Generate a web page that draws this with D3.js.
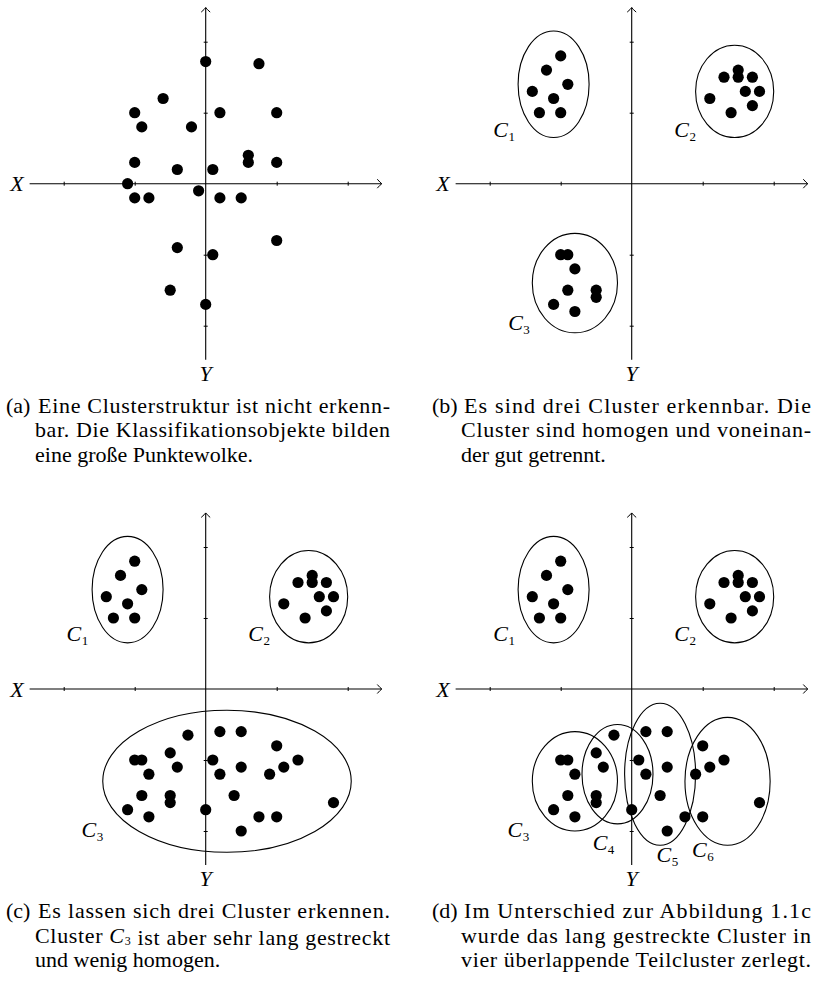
<!DOCTYPE html>
<html><head><meta charset="utf-8">
<script src="https://cdn.jsdelivr.net/npm/d3@7"></script>
<style>
body{margin:0;background:#fff}
svg{display:block}
text{font-family:"Liberation Serif","Times New Roman",serif;fill:#000}
</style>
</head><body>
<svg id="chart" width="814" height="984"></svg>
<script>
// ---------- data ----------
const axisTicks = [-2, -1, 1, 2];
const axisNames = ["X", "Y"];

const pointsA = [[0,1.72],[0.75,1.69],[-0.6,1.2],[-1,1],[0.2,1],[1,1],[-0.9,0.8],[-0.2,0.8],
  [0.6,0.4],[0.6,0.3],[-1,0.3],[1,0.3],[-0.4,0.2],[0.1,0.2],[-1.1,0],[-0.1,-0.1],[-1,-0.2],
  [-0.8,-0.2],[0.2,-0.2],[0.5,-0.2],[1,-0.8],[-0.4,-0.9],[0.1,-1],[-0.5,-1.5],[0,-1.7]];

const cluster1 = [[-1,1.8],[-1.2,1.6],[-0.9,1.4],[-1.4,1.3],[-1.1,1.2],[-1.3,1],[-1,1]];
const cluster2 = [[1.5,1.6],[1.5,1.5],[1.3,1.5],[1.7,1.5],[1.6,1.3],[1.8,1.3],[1.1,1.2],[1.7,1.1],[1.4,1]];
const cluster3 = [[-1,-1],[-0.9,-1],[-0.8,-1.2],[-0.9,-1.5],[-0.5,-1.5],[-0.5,-1.6],[-1.1,-1.7],[-0.8,-1.8]];
const lowerExtra = [[-0.25,-0.65],[0.2,-0.6],[0.5,-0.6],[1,-0.8],[-0.5,-0.9],[0.1,-1],[1.3,-1],
  [-0.4,-1.1],[0.5,-1.1],[1.1,-1.1],[0.2,-1.2],[0.9,-1.2],[0.4,-1.5],[1.8,-1.6],[0,-1.7],
  [0.75,-1.8],[1,-1.8],[0.5,-2]];

// ellipses: [cx, cy, rx, ry] in data units
const ellC1 = [-1.1, 1.4, 0.5, 0.75];
const ellC2 = [1.45, 1.3, 0.55, 0.65];
const ellC3b = [-0.8, -1.4, 0.6, 0.7];
const ellC3c = [0.3, -1.3, 1.75, 1.0];
const ellC3d = [-0.8, -1.3, 0.6, 0.7];
const ellC4 = [-0.2, -1.2, 0.5, 0.7];
const ellC5 = [0.4, -1.2, 0.5, 1.0];
const ellC6 = [1.35, -1.3, 0.6, 0.9];

// cluster labels: [index, x, y] (data units, text start / baseline)
const labelsB = [["1",-1.95,0.66],["2",0.6,0.66],["3",-1.74,-2.06]];
const labelsC = [["1",-1.96,0.67],["2",0.6,0.67],["3",-1.75,-2.08]];
const labelsD = [["1",-1.95,0.67],["2",0.6,0.67],["3",-1.75,-2.08],["4",-0.55,-2.27],["5",0.35,-2.43],["6",0.85,-2.36]];

const captionA = ["Eine Clusterstruktur ist nicht erkenn-", "bar. Die Klassifikationsobjekte bilden", "eine große Punktewolke."];
const captionB = ["Es sind drei Cluster erkennbar. Die", "Cluster sind homogen und voneinan-", "der gut getrennt."];
const captionC = ["Es lassen sich drei Cluster erkennen.", "Cluster |C3| ist aber sehr lang gestreckt", "und wenig homogen."];
const captionD = ["Im Unterschied zur Abbildung 1.1c", "wurde das lang gestreckte Cluster in", "vier überlappende Teilcluster zerlegt."];
const captionTags = ["(a)", "(b)", "(c)", "(d)"];

// ---------- drawing ----------
const svg = d3.select("#chart");
const U = 71;          // px per unit
const EXT = 2.48;      // axis extent in units

const panels = [
  {ox:205.7, oy:183.7, pts:pointsA, ells:[], labels:[], tag:captionTags[0], cap:captionA, justify:[true,true,false]},
  {ox:631.7, oy:183.7, pts:cluster1.concat(cluster2, cluster3), ells:[ellC1,ellC2,ellC3b], labels:labelsB, tag:captionTags[1], cap:captionB, justify:[true,true,false]},
  {ox:205.7, oy:689, pts:cluster1.concat(cluster2, cluster3, lowerExtra), ells:[ellC1,ellC2,ellC3c], labels:labelsC, tag:captionTags[2], cap:captionC, justify:[true,true,false]},
  {ox:631.7, oy:689, pts:cluster1.concat(cluster2, cluster3, lowerExtra), ells:[ellC1,ellC2,ellC3d,ellC4,ellC5,ellC6], labels:labelsD, tag:captionTags[3], cap:captionD, justify:[true,true,true]}
];

panels.forEach((p, i) => {
  const g = svg.append("g");
  const x = d3.scaleLinear().domain([-EXT, EXT]).range([p.ox - EXT*U, p.ox + EXT*U]);
  const y = d3.scaleLinear().domain([-EXT, EXT]).range([p.oy + EXT*U, p.oy - EXT*U]);

  const xa = g.append("g").attr("transform", `translate(0,${y(0)-2})`)
    .call(d3.axisBottom(x).tickValues(axisTicks).tickSizeInner(4).tickSizeOuter(0).tickFormat(""));
  xa.select(".domain").remove();
  xa.selectAll("line").attr("stroke","#000").attr("stroke-width",1);
  const ya = g.append("g").attr("transform", `translate(${x(0)-2},0)`)
    .call(d3.axisRight(y).tickValues(axisTicks).tickSizeInner(4).tickSizeOuter(0).tickFormat(""));
  ya.select(".domain").remove();
  ya.selectAll("line").attr("stroke","#000").attr("stroke-width",1);

  g.append("line").attr("x1", x(-EXT)).attr("x2", x(EXT)).attr("y1", y(0)).attr("y2", y(0))
    .attr("stroke","#000").attr("stroke-width",1.1);
  g.append("line").attr("x1", x(0)).attr("x2", x(0)).attr("y1", y(-EXT)).attr("y2", y(EXT))
    .attr("stroke","#000").attr("stroke-width",1.1);
  const xt = x(EXT), yt = y(0);
  g.append("path").attr("d", `M${xt-4.5},${yt-4.5} Q${xt-1.5},${yt-1} ${xt},${yt} Q${xt-1.5},${yt+1} ${xt-4.5},${yt+4.5}`)
    .attr("fill","none").attr("stroke","#000").attr("stroke-width",1);
  const ax = x(0), ay = y(EXT);
  g.append("path").attr("d", `M${ax-4.5},${ay+4.5} Q${ax-1},${ay+1.5} ${ax},${ay} Q${ax+1},${ay+1.5} ${ax+4.5},${ay+4.5}`)
    .attr("fill","none").attr("stroke","#000").attr("stroke-width",1);

  g.append("text").attr("x", x(-EXT) - 6).attr("y", y(0) + 7.5).attr("text-anchor","end")
    .attr("font-size", 22).attr("font-style","italic").text(axisNames[0]);
  g.append("text").attr("x", x(0)).attr("y", y(-EXT) + 21).attr("text-anchor","middle")
    .attr("font-size", 22).attr("font-style","italic").text(axisNames[1]);

  g.selectAll("ellipse").data(p.ells).join("ellipse")
    .attr("cx", d => x(d[0])).attr("cy", d => y(d[1]))
    .attr("rx", d => x(d[0]+d[2]) - x(d[0])).attr("ry", d => y(d[1]-d[3]) - y(d[1]))
    .attr("fill","none").attr("stroke","#000").attr("stroke-width",1.1);

  g.selectAll("circle").data(p.pts).join("circle")
    .attr("cx", d => x(d[0])).attr("cy", d => y(d[1])).attr("r", 5.6).attr("fill","#000");

  p.labels.forEach(l => {
    const t = g.append("text").attr("x", x(l[1])).attr("y", y(l[2])).attr("font-size", 22);
    t.append("tspan").attr("font-style","italic").text("C");
    t.append("tspan").attr("font-size", 13).attr("dy", 4).attr("dx", 0.5).text(l[0]);
  });

  const left = i % 2 === 0 ? 6 : 432;
  const body = left + 29;
  const right = i % 2 === 0 ? 390 : 811;
  const base = p.oy + 229;
  const fs = 22;
  g.append("text").attr("x", left).attr("y", base).attr("font-size", fs).text(p.tag);
  p.cap.forEach((line, k) => {
    const sx = k === 0 ? body + 3 : body;
    const t = g.append("text").attr("x", sx).attr("y", base + k*24.5).attr("font-size", fs);
    const parts = line.split("|");
    parts.forEach((part, j) => {
      if (j % 2 === 1) {
        t.append("tspan").attr("font-style","italic").text(part[0]);
        t.append("tspan").attr("font-size", 12).attr("dy", 2.5).text(part.slice(1));
        t.append("tspan").attr("dy", -2.5).text("");
      } else {
        t.append("tspan").text(part);
      }
    });
    if (p.justify[k]) {
      t.attr("textLength", right - sx).attr("lengthAdjust", "spacing");
    }
  });
});
</script>
</body></html>
